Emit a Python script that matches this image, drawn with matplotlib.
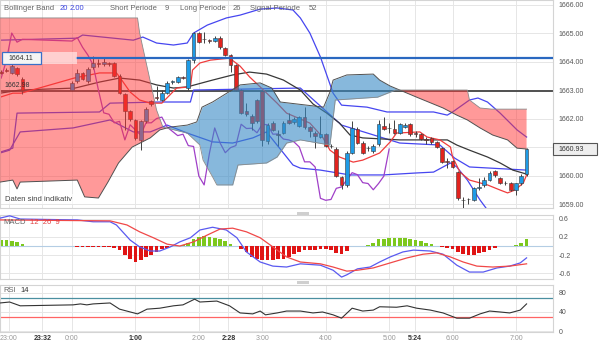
import numpy as np
import matplotlib
matplotlib.use("Agg")
from matplotlib import pyplot as plt
from matplotlib.patches import Rectangle

plt.rcParams['font.family'] = ['Liberation Sans', 'DejaVu Sans']

# time axis: minutes after 23:00, 5-minute bars (short run before the break, then 0:00 - 7:10)
SEG1_START, SEG1_BARS = -7, 5
SEG2_START, SEG2_BARS = 60, 87

opens = [1663.65, 1663.72, 1663.60, 1663.78, 1663.40,
         1663.00, 1663.30, 1663.60, 1663.30, 1663.80, 1663.95, 1663.90, 1663.95, 1663.95, 1663.50,
         1662.85, 1662.25, 1661.95, 1661.25, 1661.90, 1662.60, 1662.75, 1662.65, 1662.90, 1663.28,
         1663.28, 1663.45, 1663.07, 1664.05, 1665.00, 1664.80, 1664.75, 1664.72, 1664.84, 1664.47,
         1664.23, 1663.88, 1663.00, 1662.25, 1662.10, 1662.65, 1662.95, 1661.20, 1661.85, 1661.45,
         1661.50, 1661.95, 1661.88, 1661.75, 1662.05, 1661.70, 1661.50, 1661.35, 1661.45, 1661.05,
         1660.93, 1659.95, 1659.67, 1660.80, 1661.62, 1661.15, 1660.95, 1660.85, 1661.10, 1661.75,
         1661.68, 1661.65, 1661.50, 1661.72, 1661.80, 1661.48, 1661.45, 1661.27, 1661.30, 1661.18,
         1660.95, 1660.50, 1660.50, 1660.12, 1659.15, 1659.18, 1659.15, 1659.55, 1659.65, 1659.85,
         1660.15, 1659.90, 1659.75, 1659.72, 1659.50, 1659.72, 1660.05]
highs = [1663.70, 1663.76, 1663.90, 1663.82, 1663.45,
         1663.30, 1663.75, 1663.65, 1663.80, 1664.20, 1664.10, 1664.15, 1664.00, 1664.00, 1663.55,
         1662.90, 1662.30, 1662.00, 1661.95, 1662.40, 1662.65, 1663.15, 1663.00, 1663.30, 1663.35,
         1663.50, 1663.50, 1664.10, 1665.05, 1665.05, 1665.04, 1664.80, 1664.90, 1664.88, 1664.50,
         1664.25, 1663.90, 1663.05, 1662.55, 1662.15, 1662.70, 1663.00, 1661.85, 1661.90, 1661.60,
         1661.90, 1662.20, 1662.05, 1662.10, 1662.40, 1661.75, 1661.55, 1662.10, 1661.50, 1661.10,
         1661.00, 1660.00, 1660.85, 1661.90, 1661.70, 1661.20, 1661.05, 1661.10, 1661.95, 1662.05,
         1661.85, 1661.95, 1661.85, 1661.85, 1661.85, 1661.55, 1661.50, 1661.35, 1661.35, 1661.20,
         1661.00, 1660.62, 1660.55, 1660.15, 1659.25, 1659.22, 1659.60, 1659.90, 1659.95, 1660.15,
         1660.20, 1659.95, 1659.80, 1659.78, 1659.75, 1660.05, 1660.95]
lows = [1663.55, 1663.65, 1663.55, 1663.50, 1662.85,
        1662.95, 1663.25, 1663.35, 1663.25, 1663.75, 1663.80, 1663.85, 1663.85, 1663.45, 1662.85,
        1661.60, 1661.90, 1661.25, 1660.90, 1661.85, 1662.45, 1662.65, 1662.60, 1662.85, 1663.20,
        1663.25, 1663.40, 1663.00, 1663.95, 1664.65, 1664.65, 1664.65, 1664.70, 1664.45, 1664.20,
        1663.65, 1662.95, 1662.15, 1662.10, 1661.60, 1661.85, 1661.05, 1661.10, 1661.55, 1661.05,
        1661.45, 1661.80, 1661.80, 1661.70, 1661.65, 1661.35, 1660.95, 1661.30, 1661.00, 1660.95,
        1659.95, 1659.52, 1659.60, 1660.75, 1661.10, 1660.75, 1660.85, 1660.80, 1661.05, 1661.60,
        1661.50, 1661.45, 1661.45, 1661.68, 1661.40, 1661.35, 1661.25, 1661.10, 1661.10, 1660.95,
        1660.45, 1660.28, 1660.25, 1659.15, 1658.80, 1659.00, 1659.10, 1659.50, 1659.60, 1659.80,
        1659.95, 1659.70, 1659.65, 1659.45, 1659.30, 1659.65, 1660.00]
closes = [1663.60, 1663.68, 1663.85, 1663.55, 1663.00,
          1663.25, 1663.60, 1663.40, 1663.75, 1663.95, 1663.90, 1663.98, 1663.90, 1663.50, 1662.90,
          1662.25, 1662.00, 1661.30, 1661.90, 1662.35, 1662.50, 1662.72, 1662.90, 1663.25, 1663.30,
          1663.45, 1663.42, 1664.05, 1665.00, 1664.68, 1664.78, 1664.72, 1664.84, 1664.50, 1664.23,
          1663.88, 1663.00, 1662.20, 1662.15, 1661.85, 1661.90, 1661.25, 1661.78, 1661.60, 1661.42,
          1661.85, 1661.85, 1662.00, 1662.05, 1661.70, 1661.55, 1661.40, 1661.45, 1661.05, 1661.02,
          1659.98, 1659.67, 1660.78, 1661.67, 1661.15, 1660.80, 1660.98, 1661.05, 1661.80, 1661.65,
          1661.66, 1661.50, 1661.80, 1661.78, 1661.45, 1661.46, 1661.28, 1661.25, 1661.18, 1661.00,
          1660.48, 1660.48, 1660.30, 1659.20, 1659.13, 1659.16, 1659.55, 1659.60, 1659.85, 1660.10,
          1660.03, 1659.75, 1659.72, 1659.50, 1659.72, 1659.98, 1660.93]

# Bollinger band (20, 2.00)
bb_up_t = [-8, 65, 70, 118, 127, 140, 156, 169, 175, 188, 206, 219, 238, 254, 269, 276, 285, 295,
           307, 315, 339, 358, 402, 415, 420, 436, 444, 453, 465, 481, 490]
bb_up_v = [1664.75, 1664.82, 1664.93, 1664.75, 1664.86, 1664.65, 1664.58, 1664.65, 1665.00, 1665.28,
           1665.53, 1665.63, 1665.84, 1665.88, 1665.81, 1665.53, 1665.00, 1664.16, 1662.89, 1662.47,
           1662.40, 1662.23, 1662.23, 1662.12, 1662.23, 1662.65, 1662.72, 1662.58, 1662.19, 1661.60,
           1661.35]
bb_mid_t = [-8, 4, 8, 86, 96, 143, 172, 175, 276, 315, 370, 408, 422, 436, 490]
bb_mid_v = [1660.82, 1660.96, 1662.19, 1662.23, 1662.54, 1662.58, 1662.58, 1663.00, 1663.07, 1661.77,
            1661.14, 1661.07, 1660.61, 1660.30, 1660.19]
bb_lo_t = [-8, 1, 11, 61, 96, 118, 134, 150, 169, 193, 212, 231, 244, 260, 269, 276, 295, 323,
           354, 386, 402, 411, 418, 424, 434, 446, 453, 460]
bb_lo_v = [1660.79, 1660.89, 1661.53, 1661.67, 1661.95, 1661.53, 1661.53, 1661.77, 1661.49, 1661.18,
           1661.14, 1661.32, 1661.53, 1660.79, 1660.37, 1660.26, 1660.19, 1660.02, 1660.02, 1660.09,
           1660.12, 1660.30, 1660.44, 1660.30, 1659.84, 1659.14, 1658.79, 1658.26]

# short (9) and long (26) periode lines
short_t = [-8, 4, 12, 62, 86, 102, 105, 115, 124, 134, 145, 159, 172, 174, 181, 191, 209, 219, 228,
           238, 254, 263, 285, 297, 304, 313, 326, 335, 351, 361, 367, 389, 396, 408, 418, 420, 427,
           436, 453, 465, 472, 479, 487, 490]
short_v = [1662.75, 1662.89, 1662.89, 1663.42, 1663.60, 1663.60, 1663.46, 1662.93, 1662.65, 1662.54,
           1662.54, 1663.07, 1663.11, 1663.70, 1663.95, 1664.05, 1664.12, 1663.84, 1663.46, 1663.11,
           1662.54, 1662.19, 1661.84, 1661.35, 1660.89, 1660.65, 1660.47, 1660.54, 1660.79, 1661.18,
           1661.49, 1661.53, 1661.35, 1661.25, 1661.00, 1660.65, 1660.12, 1659.84, 1659.67, 1659.49,
           1659.39, 1659.49, 1659.74, 1660.02]
long_t = [-8, 11, 63, 86, 105, 124, 140, 156, 169, 193, 212, 228, 244, 260, 276, 288, 301, 313, 323,
          335, 370, 415, 424, 436, 453, 465, 477, 490]
long_v = [1662.89, 1663.00, 1663.07, 1663.28, 1663.42, 1663.35, 1663.18, 1663.07, 1663.11, 1663.35,
          1663.53, 1663.63, 1663.56, 1663.35, 1663.00, 1662.51, 1662.19, 1661.84, 1661.42, 1661.32,
          1661.25, 1661.25, 1661.07, 1660.89, 1660.65, 1660.44, 1660.19, 1660.05]

# cloud edges
span_a_t = [-8, 4, 8, 11, 65, 72, 85, 94, 104, 117, 134, 143, 153, 169, 178, 183, 193, 219, 238, 249,
            257, 298, 304, 307, 320, 345, 351, 361, 370, 386, 411, 424, 434, 446, 458, 472, 481, 490]
span_a_v = [1659.77, 1659.84, 1659.53, 1659.77, 1659.84, 1659.25, 1659.21, 1659.77, 1660.44, 1661.00,
            1661.32, 1661.60, 1661.70, 1661.77, 1661.88, 1662.40, 1662.58, 1663.18, 1663.25, 1663.07,
            1662.58, 1662.40, 1662.93, 1663.35, 1663.53, 1663.56, 1663.35, 1663.14, 1663.00, 1662.75,
            1662.37, 1662.12, 1661.95, 1661.67, 1661.42, 1661.25, 1660.96, 1660.93]
span_b_t = [-8, 122, 124, 140, 146, 169, 181, 184, 193, 197, 212, 217, 244, 254, 263, 276, 304, 309,
            349, 366, 434, 436, 446, 457, 490]
span_b_v = [1665.53, 1665.53, 1665.00, 1662.30, 1661.70, 1661.49, 1661.07, 1660.54, 1659.95, 1659.67,
            1659.67, 1660.37, 1660.44, 1660.65, 1661.14, 1661.25, 1661.07, 1662.65, 1662.75, 1663.00,
            1663.00, 1662.65, 1662.37, 1662.33, 1662.33]

# MACD (12, 26, 9)
macd_t = [-8, 1, 11, 65, 80, 96, 102, 115, 124, 134, 143, 153, 162, 172, 181, 193, 206, 216, 225, 238,
          250, 263, 276, 295, 307, 315, 320, 330, 342, 351, 361, 373, 383, 399, 411, 424, 436, 449,
          462, 474, 484, 490]
macd_v = [0.61, 0.66, 0.59, 0.57, 0.53, 0.53, 0.46, 0.13, -0.02, -0.11, -0.11, -0.02, 0.09, 0.18, 0.35,
          0.41, 0.35, 0.18, -0.13, -0.35, -0.44, -0.46, -0.39, -0.42, -0.53, -0.68, -0.63, -0.50,
          -0.46, -0.35, -0.24, -0.13, -0.09, -0.11, -0.18, -0.42, -0.57, -0.57, -0.48, -0.44, -0.37,
          -0.26]
signal_t = [-8, 96, 112, 124, 137, 150, 162, 175, 188, 200, 212, 225, 238, 250, 263, 276, 295, 307,
            320, 330, 345, 361, 377, 392, 405, 418, 430, 443, 458, 474, 490]
signal_v = [0.57, 0.55, 0.46, 0.31, 0.18, 0.04, 0.00, 0.09, 0.24, 0.37, 0.39, 0.31, 0.18, -0.02, -0.24,
            -0.35, -0.39, -0.46, -0.55, -0.53, -0.48, -0.37, -0.26, -0.18, -0.15, -0.24, -0.35,
            -0.44, -0.46, -0.44, -0.39]
hist = [0.13, 0.13, 0.11, 0.09, 0.04,
        -0.01, -0.02, -0.02, -0.02, -0.02, -0.02, -0.02, -0.03, -0.05, -0.09,
        -0.19, -0.28, -0.34, -0.31, -0.24, -0.19, -0.13, -0.07, -0.04, -0.01,
        0.01, 0.03, 0.07, 0.15, 0.20, 0.21, 0.20, 0.18, 0.16, 0.10,
        0.05, 0.01, -0.06, -0.13, -0.24, -0.28, -0.31, -0.31, -0.31, -0.29,
        -0.28, -0.24, -0.17, -0.13, -0.08, -0.08, -0.08, -0.06, -0.06, -0.08,
        -0.15, -0.18, -0.11, -0.01, 0.01, 0.01, 0.03, 0.07, 0.15, 0.16,
        0.17, 0.17, 0.17, 0.17, 0.16, 0.14, 0.10, 0.07, 0.04, 0.01,
        -0.03, -0.04, -0.07, -0.13, -0.18, -0.20, -0.19, -0.15, -0.13, -0.08,
        -0.04, -0.01, 0.01, 0.01, 0.02, 0.06, 0.15]

# RSI (14)
rsi_t = [-8, 1, 11, 61, 68, 74, 80, 96, 105, 122, 131, 143, 156, 165, 176, 181, 197, 209, 219, 231,
         238, 243, 254, 263, 276, 288, 297, 307, 315, 325, 335, 345, 351, 367, 377, 386, 399, 411,
         424, 436, 446, 455, 465, 474, 484, 490]
rsi_v = [59, 61, 53, 55, 57, 55, 57, 59, 46, 36, 46, 48, 53, 55, 67, 61, 63, 53, 38, 36,
         42, 34, 38, 42, 42, 38, 40, 34, 27, 48, 42, 44, 51, 50, 53, 48, 44, 38, 27, 27,
         36, 42, 40, 38, 44, 57]

support = 1662.98
resistance = 1664.11
last_price = 1660.93

price_ticks = [1659, 1660, 1661, 1662, 1663, 1664, 1665, 1666]
tick_m = [0, 32, 60, 120, 180, 208, 240, 300, 360, 384, 420, 480]
tick_lbl = ['23:00', '23:32', '0:00', '1:00', '2:00', '2:28', '3:00', '4:00', '5:00', '5:24', '6:00', '7:00']
bold_lbl = ['23:32', '1:00', '2:28', '5:24']

BLUE_UP = '#1e9be6'
RED_DN = '#e2231e'
GRID = '#e6e6e6'
TXT = '#666666'

bar_t = np.concatenate([SEG1_START + 5 * np.arange(SEG1_BARS),
                        SEG2_START + 5 * np.arange(SEG2_BARS)])
o = np.array(opens)
h = np.array(highs)
l = np.array(lows)
c = np.array(closes)

W, H = 600, 344
fig = plt.figure(figsize=(6, 3.44), dpi=100)
fig.patch.set_facecolor('white')


def box(y0, y1):
    return [0, 1 - y1 / H, 553 / W, (y1 - y0) / H]


def ftext(x, y, s, **kw):
    fig.text(x / W, 1 - y / H, s, va='center', ha='left', **kw)


ax = fig.add_axes(box(0, 208))
axm = fig.add_axes(box(215, 279))
axr = fig.add_axes(box(285, 332))

XMIN, XMAX = -8.1, 515
for a in (ax, axm, axr):
    a.set_xlim(XMIN, XMAX)
    a.set_xticks(tick_m)
    a.yaxis.tick_right()
    a.tick_params(length=0, labelsize=5, colors='#555555', pad=4)
    a.grid(True, color=GRID, lw=0.7, zorder=0)
    a.set_axisbelow(True)
    for s in a.spines.values():
        s.set_color('#d4d4d4')
        s.set_linewidth(0.8)
ax.set_xticklabels([])
axm.set_xticklabels([])

# ---- price panel
ax.set_ylim(1658.86, 1666.16)
ax.set_yticks(price_ticks)
# the last-price tag sits where 1661.00 would be
ax.set_yticklabels(['' if abs(v - last_price) < 0.3 else '%.2f' % v for v in price_ticks])

ax.axhline(support, color='#505050', lw=1.4, zorder=1.5)

ax.plot(bb_up_t, bb_up_v, color='#4646f0', lw=0.9, zorder=2)
ax.plot(bb_mid_t, bb_mid_v, color='#4646f0', lw=0.9, zorder=2)
ax.plot(bb_lo_t, bb_lo_v, color='#4646f0', lw=0.9, zorder=2)
ax.plot(long_t, long_v, color='#383838', lw=0.9, zorder=2)
ax.plot(short_t, short_v, color='#f03c3c', lw=0.9, zorder=2)
# lagging line: closes moved back 26 bars
ax.plot(bar_t[:-26], c[26:], color='#a040c8', lw=0.9, zorder=2)

up = c >= o
body_lo = np.minimum(o, c)
body_h = np.maximum(np.abs(c - o), 0.02)
ax.vlines(bar_t, l, h, color='#404040', lw=0.7, zorder=3)
ax.bar(bar_t, body_h, bottom=body_lo, width=3.4,
       color=np.where(up, BLUE_UP, RED_DN), edgecolor='#3a3a3a', lw=0.4, zorder=3.2)

grid_t = np.union1d(span_a_t, span_b_t)
sa = np.interp(grid_t, span_a_t, span_a_v)
sb = np.interp(grid_t, span_b_t, span_b_v)
ax.fill_between(grid_t, sa, sb, where=sa >= sb, interpolate=True,
                color='#378ac5', alpha=0.6, lw=0, zorder=4)
ax.fill_between(grid_t, sa, sb, where=sa < sb, interpolate=True,
                color='#ff3535', alpha=0.5, lw=0, zorder=4)
ax.plot(span_a_t, span_a_v, color='#505050', lw=0.7, zorder=4.5)
ax.plot(span_b_t, span_b_v, color='#8a8a8a', lw=0.6, zorder=4.5)

# resistance line with its tag on the left
ax.plot([65, XMAX], [resistance, resistance], color='#2a68c0', lw=1.6, zorder=6)
ax.add_patch(Rectangle((-6.3, resistance - 0.21), 71.3, 0.42, fc='white', ec='none',
                       alpha=0.55, zorder=6))
ax.add_patch(Rectangle((-6.3, resistance - 0.21), 37, 0.42, fc='#f4f4f4', ec='#3a6fc8',
                       lw=0.9, zorder=6.5))
ax.text(12, resistance, '%.2f' % resistance, fontsize=5, color='#333333',
        ha='center', va='center', zorder=7)
ax.text(-3.5, support + 0.06, '%.2f' % support, fontsize=5, color='#333333',
        ha='left', va='bottom', zorder=7)

# last price tag on the right scale
y_last = 208 * (1666.16 - last_price) / (1666.16 - 1658.86)
fig.patches.append(Rectangle((553 / W, 1 - (y_last + 6) / H), 44 / W, 12 / H,
                             transform=fig.transFigure, fc='#eeeeee', ec='#555555', lw=0.8))
ftext(558, y_last, '%.2f' % last_price, fontsize=5, color='#333333')

ax.text(0.009, 0.025, 'Daten sind indikativ', transform=ax.transAxes, fontsize=5.5,
        color='#444444', ha='left', va='bottom', zorder=8,
        bbox=dict(boxstyle='square,pad=0.2', fc='white', ec='none', alpha=0.7))

ftext(4, 8, 'Bollinger Band', fontsize=5.5, color=TXT)
ftext(60, 8, '20', fontsize=5.5, color='#3b44e0')
ftext(70, 8, '2.00', fontsize=5.5, color='#3b44e0')
ftext(110, 8, 'Short Periode', fontsize=5.5, color=TXT)
ftext(165, 8, '9', fontsize=5.5, color=TXT)
ftext(180, 8, 'Long Periode', fontsize=5.5, color=TXT)
ftext(233, 8, '26', fontsize=5.5, color=TXT)
ftext(250, 8, 'Signal Periode', fontsize=5.5, color=TXT)
ftext(309, 8, '52', fontsize=5.5, color=TXT)

# ---- MACD panel
axm.set_ylim(-0.722, 0.678)
axm.set_yticks([0.6, 0.2, -0.2, -0.6])
axm.set_yticklabels(['0.6', '0.2', '-0.2', '-0.6'])
axm.axhline(0, color='#b4cde4', lw=0.8, zorder=1)
hv = np.array(hist)
axm.bar(bar_t, hv, width=3.4, color=np.where(hv >= 0, '#7cc81e', '#e01414'), lw=0, zorder=2)
axm.plot(macd_t, macd_v, color='#5a5af0', lw=0.9, zorder=3)
axm.plot(signal_t, signal_v, color='#f04848', lw=0.9, zorder=3)
ftext(3, 223, 'MACD', fontsize=5.5, color=TXT)
ftext(30, 223, '12  26  9', fontsize=5.5, color='#e04040')

# ---- RSI panel
axr.set_ylim(-2.1, 96.8)
axr.set_yticks([0, 40, 80])
axr.axhline(70, color='#4a8fa0', lw=0.9, zorder=1)
axr.axhline(30, color='#ff6464', lw=0.9, zorder=1)
axr.plot(rsi_t, rsi_v, color='#333333', lw=0.8, zorder=3)
ftext(3, 291, 'RSI', fontsize=5.5, color=TXT)
ftext(20, 291, '14', fontsize=5.5, color='#333333')

axr.set_xticklabels(tick_lbl)
axr.tick_params(axis='x', pad=2)
for lab in axr.get_xticklabels():
    if lab.get_text() in bold_lbl:
        lab.set_fontweight('bold')
        lab.set_color('#333333')
    else:
        lab.set_color('#999999')

# panel resize handles
for yh in (213, 282):
    fig.patches.append(Rectangle((297 / W, 1 - (yh + 1.5) / H), 12 / W, 3 / H,
                                 transform=fig.transFigure, fc='#cfcfcf', ec='none'))

fig.savefig('out.png', dpi=100)
